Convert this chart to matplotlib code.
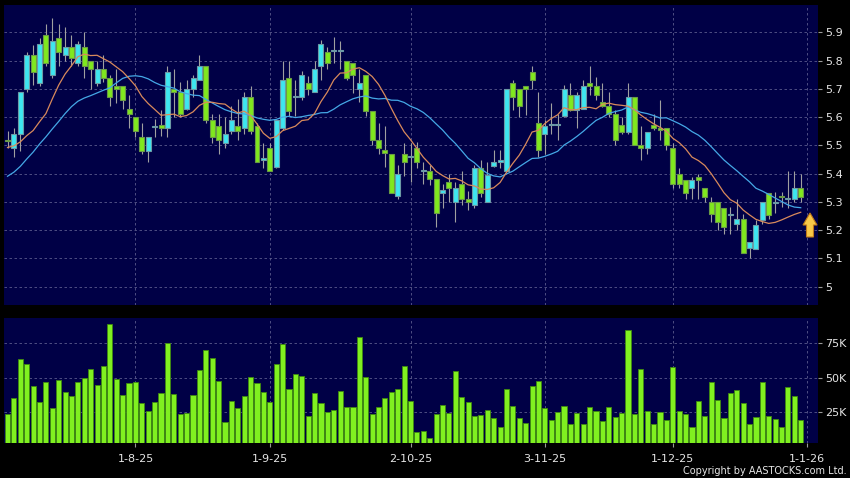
import matplotlib
matplotlib.use('Agg')
import matplotlib.pyplot as plt
from matplotlib.patches import Polygon
import numpy as np
import pandas as pd

# daily candles, 4 Jul 2025 .. 31 Dec 2025 (index 0..124)
opens = [5.52, 5.49, 5.54, 5.70, 5.82, 5.72, 5.89, 5.75, 5.88, 5.82,
         5.85, 5.79, 5.85, 5.80, 5.72, 5.77, 5.74, 5.71, 5.71, 5.63,
         5.60, 5.53, 5.48, 5.565, 5.572, 5.56, 5.70, 5.69, 5.63, 5.70,
         5.73, 5.78, 5.59, 5.57, 5.51, 5.55, 5.57, 5.56, 5.67, 5.57,
         5.45, 5.49, 5.425, 5.56, 5.74, 5.67, 5.67, 5.72, 5.69, 5.78,
         5.83, 5.835, 5.835, 5.80, 5.79, 5.70, 5.75, 5.62, 5.52, 5.483,
         5.47, 5.32, 5.47, 5.46, 5.49, 5.41, 5.41, 5.38, 5.33, 5.371,
         5.30, 5.363, 5.312, 5.29, 5.42, 5.30, 5.427, 5.44, 5.41, 5.72,
         5.70, 5.71, 5.76, 5.58, 5.542, 5.572, 5.572, 5.604, 5.678, 5.625,
         5.63, 5.72, 5.71, 5.652, 5.64, 5.61, 5.572, 5.548, 5.67, 5.50,
         5.49, 5.572, 5.562, 5.56, 5.49, 5.40, 5.376, 5.35, 5.388, 5.35,
         5.30, 5.30, 5.28, 5.253, 5.22, 5.24, 5.138, 5.132, 5.235, 5.33,
         5.295, 5.32, 5.31, 5.31, 5.348]
highs = [5.55, 5.56, 5.69, 5.83, 5.855, 5.88, 5.93, 5.95, 5.93, 5.92,
         5.89, 5.87, 5.90, 5.80, 5.80, 5.82, 5.75, 5.77, 5.71, 5.68,
         5.60, 5.58, 5.53, 5.595, 5.625, 5.78, 5.77, 5.725, 5.73, 5.75,
         5.82, 5.78, 5.61, 5.61, 5.60, 5.64, 5.665, 5.69, 5.71, 5.58,
         5.51, 5.51, 5.59, 5.80, 5.80, 5.73, 5.765, 5.745, 5.80, 5.873,
         5.85, 5.885, 5.87, 5.80, 5.79, 5.77, 5.75, 5.62, 5.58, 5.57,
         5.47, 5.43, 5.51, 5.51, 5.513, 5.44, 5.43, 5.38, 5.365, 5.40,
         5.37, 5.41, 5.34, 5.43, 5.45, 5.44, 5.483, 5.483, 5.70, 5.73,
         5.70, 5.71, 5.78, 5.69, 5.59, 5.65, 5.61, 5.714, 5.72, 5.69,
         5.73, 5.78, 5.743, 5.72, 5.69, 5.625, 5.60, 5.72, 5.67, 5.57,
         5.548, 5.61, 5.66, 5.56, 5.507, 5.42, 5.376, 5.388, 5.40, 5.35,
         5.318, 5.30, 5.28, 5.283, 5.312, 5.258, 5.158, 5.235, 5.30, 5.33,
         5.335, 5.335, 5.41, 5.41, 5.40]
lows = [5.49, 5.46, 5.48, 5.69, 5.715, 5.71, 5.78, 5.74, 5.78, 5.80,
        5.78, 5.78, 5.74, 5.70, 5.71, 5.725, 5.64, 5.65, 5.63, 5.56,
        5.53, 5.47, 5.44, 5.53, 5.535, 5.53, 5.60, 5.60, 5.625, 5.67,
        5.73, 5.58, 5.51, 5.47, 5.49, 5.54, 5.52, 5.54, 5.54, 5.44,
        5.42, 5.41, 5.42, 5.555, 5.605, 5.605, 5.66, 5.68, 5.69, 5.73,
        5.77, 5.79, 5.77, 5.73, 5.685, 5.655, 5.605, 5.50, 5.47, 5.425,
        5.33, 5.312, 5.39, 5.37, 5.42, 5.365, 5.36, 5.21, 5.28, 5.30,
        5.23, 5.29, 5.27, 5.28, 5.318, 5.30, 5.425, 5.42, 5.41, 5.627,
        5.60, 5.607, 5.70, 5.46, 5.47, 5.54, 5.52, 5.60, 5.62, 5.56,
        5.63, 5.68, 5.66, 5.637, 5.60, 5.50, 5.54, 5.542, 5.50, 5.45,
        5.47, 5.554, 5.52, 5.483, 5.35, 5.35, 5.31, 5.31, 5.31, 5.30,
        5.23, 5.20, 5.185, 5.185, 5.20, 5.12, 5.10, 5.132, 5.223, 5.24,
        5.26, 5.282, 5.28, 5.30, 5.30]
closes = [5.515, 5.54, 5.69, 5.82, 5.76, 5.86, 5.79, 5.87, 5.83, 5.85,
          5.81, 5.86, 5.78, 5.77, 5.77, 5.74, 5.67, 5.70, 5.66, 5.61,
          5.55, 5.48, 5.53, 5.565, 5.562, 5.76, 5.69, 5.61, 5.70, 5.74,
          5.78, 5.59, 5.53, 5.52, 5.54, 5.59, 5.55, 5.67, 5.55, 5.44,
          5.45, 5.41, 5.59, 5.73, 5.62, 5.67, 5.75, 5.70, 5.77, 5.86,
          5.79, 5.835, 5.835, 5.74, 5.75, 5.72, 5.62, 5.52, 5.49, 5.472,
          5.33, 5.40, 5.44, 5.46, 5.44, 5.41, 5.38, 5.26, 5.342, 5.35,
          5.35, 5.312, 5.30, 5.42, 5.33, 5.395, 5.44, 5.448, 5.70, 5.67,
          5.64, 5.70, 5.73, 5.483, 5.568, 5.572, 5.572, 5.70, 5.625, 5.678,
          5.71, 5.71, 5.678, 5.64, 5.61, 5.52, 5.548, 5.67, 5.50, 5.49,
          5.548, 5.56, 5.555, 5.50, 5.363, 5.363, 5.33, 5.376, 5.378, 5.317,
          5.258, 5.23, 5.21, 5.253, 5.24, 5.12, 5.158, 5.217, 5.30, 5.252,
          5.295, 5.316, 5.31, 5.348, 5.317]
# volume in thousands of shares
volumes_k = [23.9, 35.4, 63.9, 59.8, 43.9, 32.2, 47.1, 28.3, 48.3, 39.5,
             36.6, 46.8, 49.8, 56.1, 44.9, 58.3, 89.0, 48.8, 37.1, 45.9,
             46.8, 31.7, 25.6, 32.4, 39.0, 75.6, 38.3, 23.2, 24.6, 37.1,
             55.4, 70.5, 64.4, 47.3, 17.8, 32.7, 27.8, 36.8, 50.2, 45.9,
             39.5, 32.0, 59.8, 74.4, 41.5, 52.9, 51.5, 22.4, 39.0, 31.7,
             24.9, 26.8, 40.0, 28.5, 28.8, 80.0, 50.5, 23.2, 28.5, 34.9,
             39.3, 42.0, 58.5, 33.2, 10.5, 11.5, 6.3, 23.9, 30.0, 24.1,
             54.9, 35.6, 32.2, 22.2, 22.7, 26.6, 20.5, 14.4, 41.5, 29.5,
             20.7, 16.8, 43.7, 47.8, 28.3, 19.0, 24.9, 29.3, 16.3, 24.4,
             16.6, 28.5, 25.6, 18.5, 28.8, 21.7, 24.6, 84.6, 23.7, 56.6,
             26.1, 15.9, 25.1, 19.3, 57.6, 26.1, 23.2, 13.9, 32.7, 22.4,
             46.6, 34.1, 21.0, 38.8, 41.2, 31.7, 15.9, 21.5, 47.1, 22.2,
             20.0, 14.1, 43.2, 36.6, 19.5]
# closes before the visible window (only used to seed the moving averages)
prior_closes = [5.25, 5.28, 5.30, 5.27, 5.29, 5.28, 5.31, 5.30, 5.29, 5.32,
                5.48, 5.55, 5.60, 5.58, 5.55, 5.50, 5.35, 5.34, 5.46]

tick_labels = ['1-8-25', '1-9-25', '2-10-25', '3-11-25', '1-12-25', '1-1-26']
tick_index = [20, 41, 63, 84, 104, 125]

BG = '#000046'
GRID = '#5a5a8c'
TXT = '#e6e6e6'
UP = '#3ee6f0'
DOWN = '#80e81e'

o = np.array(opens); h = np.array(highs); l = np.array(lows); c = np.array(closes)
x = np.arange(len(c))
up = c >= o

allc = pd.Series(prior_closes + closes)
ma10 = allc.rolling(10).mean().values[len(prior_closes):]
ma20 = allc.rolling(20).mean().values[len(prior_closes):]

fig = plt.figure(figsize=(8.5, 4.78), dpi=100, facecolor='black')
ax = fig.add_axes([4/850, 1-305/478, 814/850, 300/478], facecolor=BG)
axv = fig.add_axes([4/850, 1-443/478, 814/850, 125/478], facecolor=BG)

for a in (ax, axv):
    a.set_xlim(-0.55, 126.7)
    for s in a.spines.values():
        s.set_visible(False)
    a.set_xticks(tick_index)
    a.grid(True, color=GRID, linestyle=(0, (3, 3)), linewidth=0.6)
    a.set_axisbelow(True)
    a.yaxis.tick_right()
    a.tick_params(axis='y', colors='#9a9a9a', labelcolor=TXT, length=3, width=0.8,
                  labelsize=8, pad=2)

# price panel
ax.vlines(x, l, h, color='#a0a0a0', linewidth=0.8, zorder=2)
body_lo = np.minimum(o, c)
body_h = np.maximum(np.abs(c - o), 0.004)
ax.bar(x[up], body_h[up], bottom=body_lo[up], width=0.78, color=UP,
       edgecolor='#6c9aa6', linewidth=0.8, zorder=3)
ax.bar(x[~up], body_h[~up], bottom=body_lo[~up], width=0.78, color=DOWN,
       edgecolor='#6a9a46', linewidth=0.8, zorder=3)
ax.plot(x, ma20, color='#45a8e6', linewidth=0.9, zorder=4)
ax.plot(x, ma10, color='#d98a5c', linewidth=0.9, zorder=4)
ax.set_ylim(4.935, 5.997)
ax.set_yticks(np.arange(5.0, 5.95, 0.1))
ax.set_yticklabels(['%g' % round(v, 1) for v in np.arange(5.0, 5.95, 0.1)])
ax.tick_params(axis='x', length=0, labelbottom=False)

# up-arrow marker at the right edge
arrow_px = [(810, 213), (817, 225), (813.5, 225), (813.5, 237),
            (806.5, 237), (806.5, 225), (803, 225)]
arrow = Polygon([((px - 4) / 814, (305 - py) / 300) for px, py in arrow_px],
                closed=True, transform=ax.transAxes, facecolor='#f8c848',
                edgecolor='#c07818', linewidth=0.8, zorder=5)
ax.add_patch(arrow)

# volume panel
axv.bar(x, np.array(volumes_k) * 1000, width=0.8, color='#80f020',
        edgecolor='#3f8a10', linewidth=0.6, zorder=3)
axv.set_ylim(2400, 93600)
axv.set_yticks([25000, 50000, 75000])
axv.set_yticklabels(['25K', '50K', '75K'])
axv.set_xticklabels(tick_labels)
axv.tick_params(axis='x', colors='#9a9a9a', labelcolor=TXT, length=3, width=0.8,
                labelsize=8, pad=5)

fig.text(847/850, 1-471/478, 'Copyright by AASTOCKS.com Ltd.', ha='right',
         va='center', color=TXT, fontsize=7)

fig.savefig('out.png', dpi=100, facecolor='black')
